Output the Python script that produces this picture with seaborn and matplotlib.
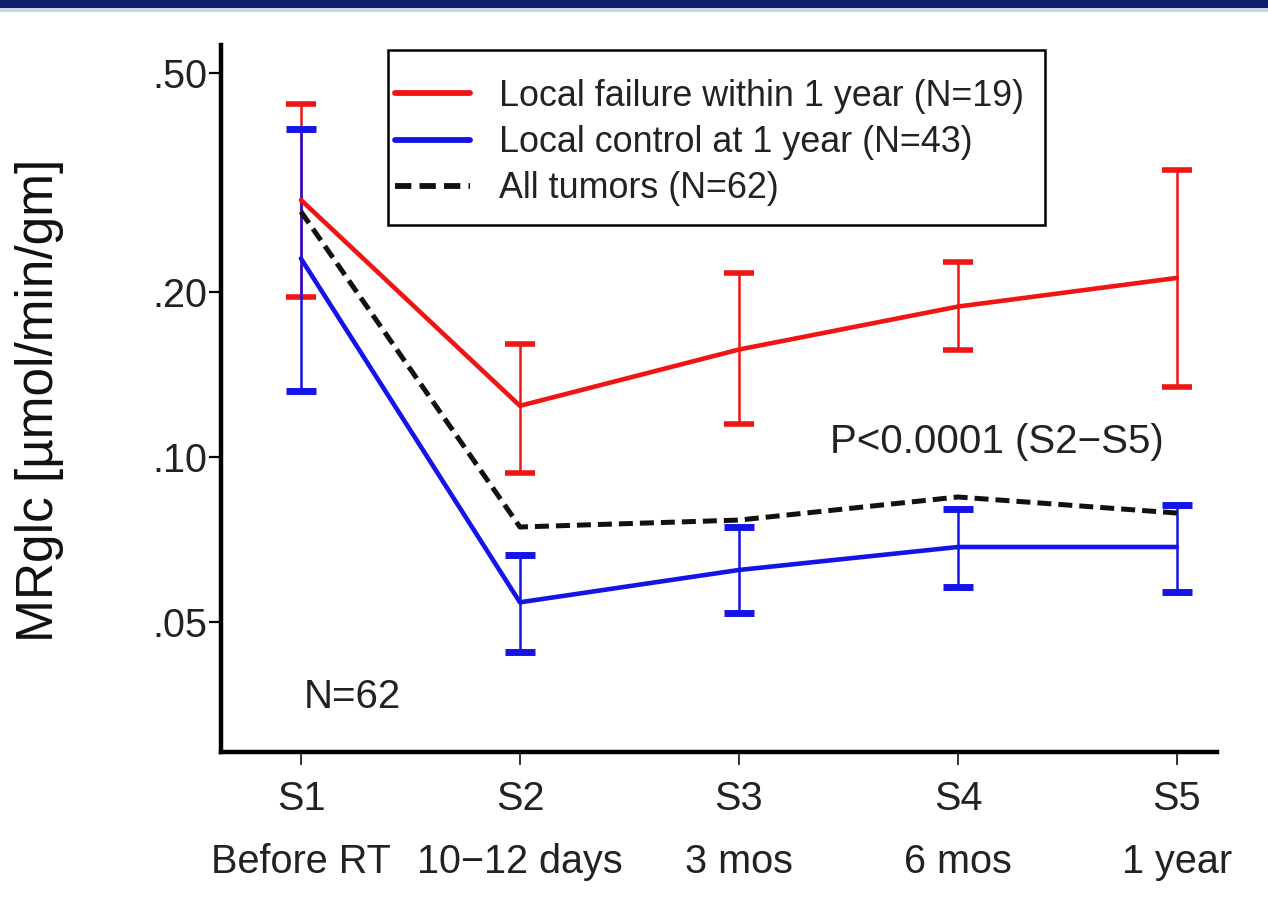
import numpy as np
import pandas as pd
import matplotlib
matplotlib.use("Agg")
import matplotlib.pyplot as plt
from matplotlib.patches import Rectangle
import seaborn as sns

# Scan stages
stages = ["S1", "S2", "S3", "S4", "S5"]
stage_times = ["Before RT", "10\u221212 days", "3 mos", "6 mos", "1 year"]

# MRglc means and error-bar limits (µmol/min/gm)
failure_mean = [0.294, 0.124, 0.157, 0.188, 0.212]
failure_upper = [0.440, 0.161, 0.216, 0.227, 0.333]
failure_lower = [0.196, 0.0935, 0.115, 0.157, 0.134]

control_mean = [0.230, 0.0544, 0.0623, 0.0686, 0.0686]
control_upper = [0.396, 0.0663, 0.0746, 0.0804, 0.0818]
control_lower = [0.132, 0.0441, 0.052, 0.058, 0.0568]

all_mean = [0.280, 0.0746, 0.0768, 0.0846, 0.0791]

labels = ["Local failure within 1 year (N=19)",
          "Local control at 1 year (N=43)",
          "All tumors (N=62)"]
colors = ["#f01414", "#1414e8", "#111111"]

y_ticks = [0.05, 0.10, 0.20, 0.50]
y_ticklabels = [".05", ".10", ".20", ".50"]

sns.set_theme(style="white")
plt.rcParams["font.family"] = ["Liberation Sans", "DejaVu Sans"]

W, H = 1268, 913
pos = np.arange(len(stages))
df = pd.DataFrame({
    "pos": np.tile(pos, 3),
    "value": failure_mean + control_mean + all_mean,
    "group": np.repeat(labels, len(stages)),
})

fig = plt.figure(figsize=(W / 100, H / 100), dpi=100)
fig.patch.set_facecolor("white")
ax = fig.add_axes([221 / W, 1 - 752 / H, (1217 - 221) / W, (752 - 45) / H])
ax.set_facecolor("white")

# Error bars
for mean, lo, hi, col, ct in [
    (failure_mean, failure_lower, failure_upper, colors[0], 4.0),
    (control_mean, control_lower, control_upper, colors[1], 5.0),
]:
    m = np.array(mean)
    ax.errorbar(pos, m, yerr=[m - np.array(lo), np.array(hi) - m], fmt="none",
                ecolor=col, elinewidth=1.8, capsize=11, capthick=ct, zorder=2)

# Mean lines
sns.lineplot(data=df[df.group == labels[0]], x="pos", y="value", color=colors[0],
             lw=3.3, ax=ax, label=labels[0], zorder=3, sort=False)
sns.lineplot(data=df[df.group == labels[1]], x="pos", y="value", color=colors[1],
             lw=3.3, ax=ax, label=labels[1], zorder=3, sort=False)
sns.lineplot(data=df[df.group == labels[2]], x="pos", y="value", color=colors[2],
             lw=3.6, ax=ax, label=labels[2], zorder=4, sort=False,
             linestyle=(0, (2.8, 1.4)))

ax.set_yscale("log")
ax.set_ylim(0.02904, 0.563)
ax.set_xlim(-0.365, 4.183)
ax.set_yticks(y_ticks)
ax.set_yticklabels(y_ticklabels)
ax.yaxis.set_minor_locator(matplotlib.ticker.NullLocator())
ax.set_xticks(pos)
ax.set_xticklabels([f"{s}\n{t}" for s, t in zip(stages, stage_times)],
                   linespacing=1.85)
ax.set_xlabel("")
ax.set_ylabel("")

for side in ["top", "right"]:
    ax.spines[side].set_visible(False)
for side in ["left", "bottom"]:
    ax.spines[side].set_color("black")
    ax.spines[side].set_linewidth(3.2)

ax.tick_params(axis="y", which="major", direction="out", length=9, width=1.6,
               color="black", labelsize=28.5, pad=1, left=True,
               labelcolor="#222222")
ax.tick_params(axis="x", which="major", direction="out", length=9, width=1.4,
               color="#333333", labelsize=28.5, pad=11, bottom=True,
               labelcolor="#222222")

# Legend box with a frame drawn separately
box = Rectangle((388 / W, 1 - 225 / H), (1045 - 388) / W, (225 - 50) / H,
                transform=fig.transFigure, facecolor="white", edgecolor="black",
                linewidth=1.8, zorder=5, clip_on=False)
ax.add_patch(box)
leg = ax.legend(loc="upper left", bbox_to_anchor=(395 / W, 1 - 79 / H),
                bbox_transform=fig.transFigure, fontsize=25.8, frameon=False,
                handlelength=2.1, handletextpad=0.8, labelspacing=0.31,
                borderpad=0, borderaxespad=0)
leg.set_zorder(6)
for t in leg.get_texts():
    t.set_color("#222222")
for line in leg.get_lines():
    line.set_linewidth(4.2)

ax.text(0.233, 0.0365, "N=62", fontsize=29, ha="center", va="center",
        color="#222222")
ax.text(3.178, 0.1065, "P<0.0001 (S2\u2212S5)", fontsize=29, ha="center",
        va="center", color="#222222")

fig.text(40 / W, 1 - 400 / H, "MRglc [\u00b5mol/min/gm]", rotation=90,
         fontsize=37, ha="center", va="center", color="#111111")

# Header band
fig.patches.append(Rectangle((0, 1 - 12 / H), 1, 12 / H, transform=fig.transFigure,
                             facecolor="#c9d3ea", edgecolor="none", zorder=0))
fig.patches.append(Rectangle((0, 1 - 8 / H), 1, 8 / H, transform=fig.transFigure,
                             facecolor="#0c1d6e", edgecolor="none", zorder=1))

fig.savefig("out.png", dpi=100)
